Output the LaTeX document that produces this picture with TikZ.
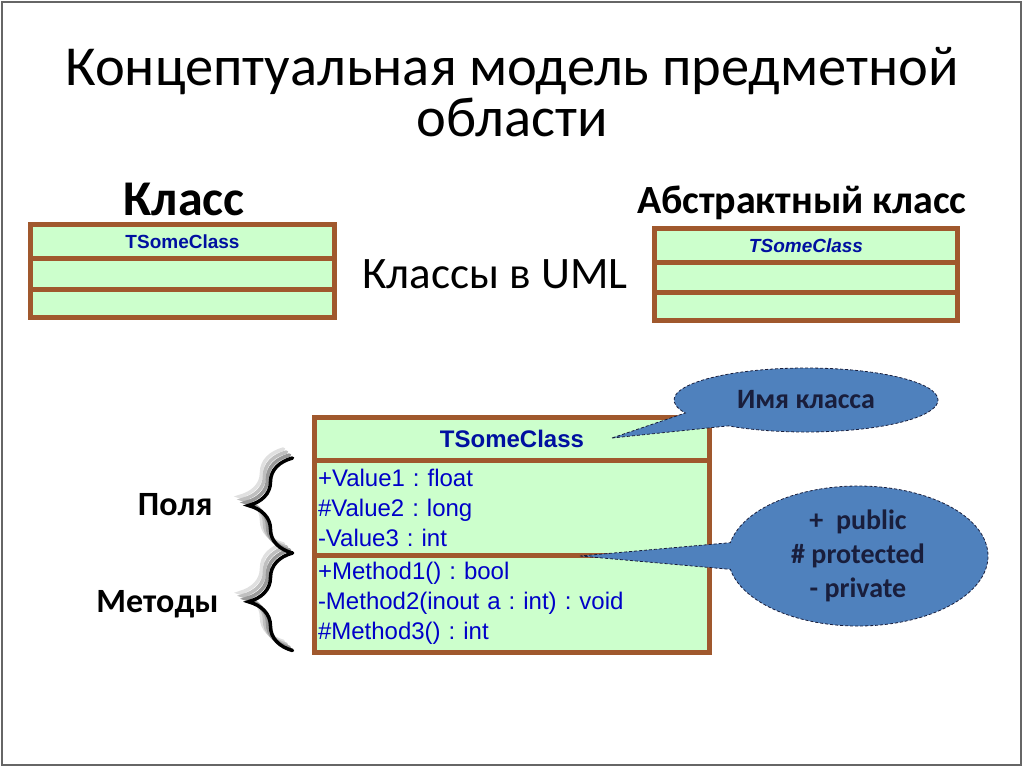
\documentclass[tikz,border=0pt]{standalone}
\usepackage{fontspec}
\setmainfont{Carlito}
\newfontfamily\arialfont{Liberation Sans}
\usetikzlibrary{positioning, shapes.callouts, decorations.pathreplacing}
\frenchspacing

\definecolor{umlbrown}{RGB}{160,88,45}
\definecolor{umlgreen}{RGB}{204,255,204}
\definecolor{umlblue}{RGB}{0,16,160}
\definecolor{membblue}{RGB}{0,0,200}
\definecolor{bubble}{RGB}{79,129,189}
\definecolor{bubbleline}{RGB}{25,30,60}

\begin{document}
\begin{tikzpicture}[x=1pt, y=-1pt,
  compart/.style={rectangle, draw=umlbrown, fill=umlgreen, line width=5pt, outer sep=0pt, inner sep=0pt},
  classname/.style={font=\arialfont\fontsize{19}{22}\selectfont\bfseries, text=umlblue},
  members/.style={font=\arialfont\fontsize{24}{30}\selectfont, text=membblue, align=left, text width=388pt, inner xsep=3.5pt},
  sectlabel/.style={font=\fontsize{34}{40}\selectfont\bfseries, anchor=base east},
  titletext/.style={anchor=base, font=\fontsize{56.5}{60}\selectfont},
  bubbletext/.style={font=\fontsize{28}{34}\selectfont\bfseries, text=bubbleline, align=center},
  callout/.style={ellipse callout, draw=bubbleline, densely dashed, line width=0.8pt, fill=bubble, inner sep=0pt},
  bracket/.style={decorate, decoration={brace, amplitude=44pt}, line width=3.5pt, line cap=round},
]

\path [use as bounding box] (0,0) rectangle (1024,768);
\draw [black!60, line width=1.5pt] (2,2) rectangle (1021,765);

% TITLE
\node [titletext] (title) at (512,85) {Концептуальная модель предметной};
\node [titletext] (title2) at (512,136) {области};
\node [anchor=base, font=\fontsize{50}{60}\selectfont\bfseries] (plaincap) at (184,215) {Класс};
\node [anchor=base, font=\fontsize{40}{48}\selectfont\bfseries] (abstcap) at (802,213) {Абстрактный класс};
\node [anchor=base, font=\fontsize{45}{54}\selectfont] (umlcap) at (495,288) {Классы в UML};

% SMALL CLASSES
\node [compart, classname, minimum width=304pt, minimum height=33.5pt, anchor=north west] (plainhead) at (30.5,224.5) {TSomeClass};
\node [compart, minimum width=304pt, minimum height=31pt, below=0pt of plainhead] (plainattr) {};
\node [compart, minimum width=304pt, minimum height=28.5pt, below=0pt of plainattr] (plainops) {};

\node [compart, classname, font=\arialfont\fontsize{19}{22}\selectfont\bfseries\itshape, minimum width=303pt, minimum height=33.5pt, anchor=north west] (abshead) at (654.5,228.5) {TSomeClass};
\node [compart, minimum width=303pt, minimum height=30pt, below=0pt of abshead] (absattr) {};
\node [compart, minimum width=303pt, minimum height=28.5pt, below=0pt of absattr] (absops) {};

% MAIN CLASS
\node [compart, classname, font=\arialfont\fontsize{24}{28}\selectfont\bfseries, minimum width=395pt, minimum height=42.5pt, anchor=north west] (head) at (314.5,417.5) {TSomeClass};
\node [compart, members, minimum height=95pt, below=0pt of head] (fields)
  {+Value1 : float\\\#Value2 : long\\-Value3 : int};
\node [compart, members, minimum height=97.5pt, below=0pt of fields] (methods)
  {+Method1() : bool\\-Method2(inout a : int) : void\\\#Method3() : int};

% BRACES
\coordinate (fieldstop) at ([xshift=-22pt, yshift=2pt]fields.north west);
\coordinate (fieldsbot) at ([xshift=-22pt, yshift=2pt]fields.south west);
\coordinate (methstop) at ([xshift=-22pt, yshift=2pt]methods.north west);
\coordinate (methsbot) at ([xshift=-22pt, yshift=2pt]methods.south west);
\foreach \s/\c in {9pt/black!12, 6pt/black!25, 3pt/black!40, 0pt/black} {
  \draw [bracket, draw=\c] ([xshift=-\s, yshift=\s]fieldsbot) -- ([xshift=-\s, yshift=\s]fieldstop);
  \draw [bracket, draw=\c] ([xshift=-\s, yshift=\s]methsbot) -- ([xshift=-\s, yshift=\s]methstop);
}
\node [sectlabel] (fieldlabel) at (216,515) {Поля};
\node [sectlabel] (methlabel) at (222,612) {Методы};

% CALLOUTS
\coordinate (nametip) at (612,438);
\coordinate (accesstip) at (580,556);
\node [callout, bubbletext, minimum width=264pt, minimum height=64pt,
  callout absolute pointer={(nametip)}, callout pointer arc=30] (namebubble) at (806,400) {Имя класса};
\node [callout, bubbletext, minimum width=260pt, minimum height=140pt,
  callout absolute pointer={(accesstip)}, callout pointer arc=22] (accessbubble) at (858,556)
  {+~~public\\\# protected\\- private};

\end{tikzpicture}
\end{document}
